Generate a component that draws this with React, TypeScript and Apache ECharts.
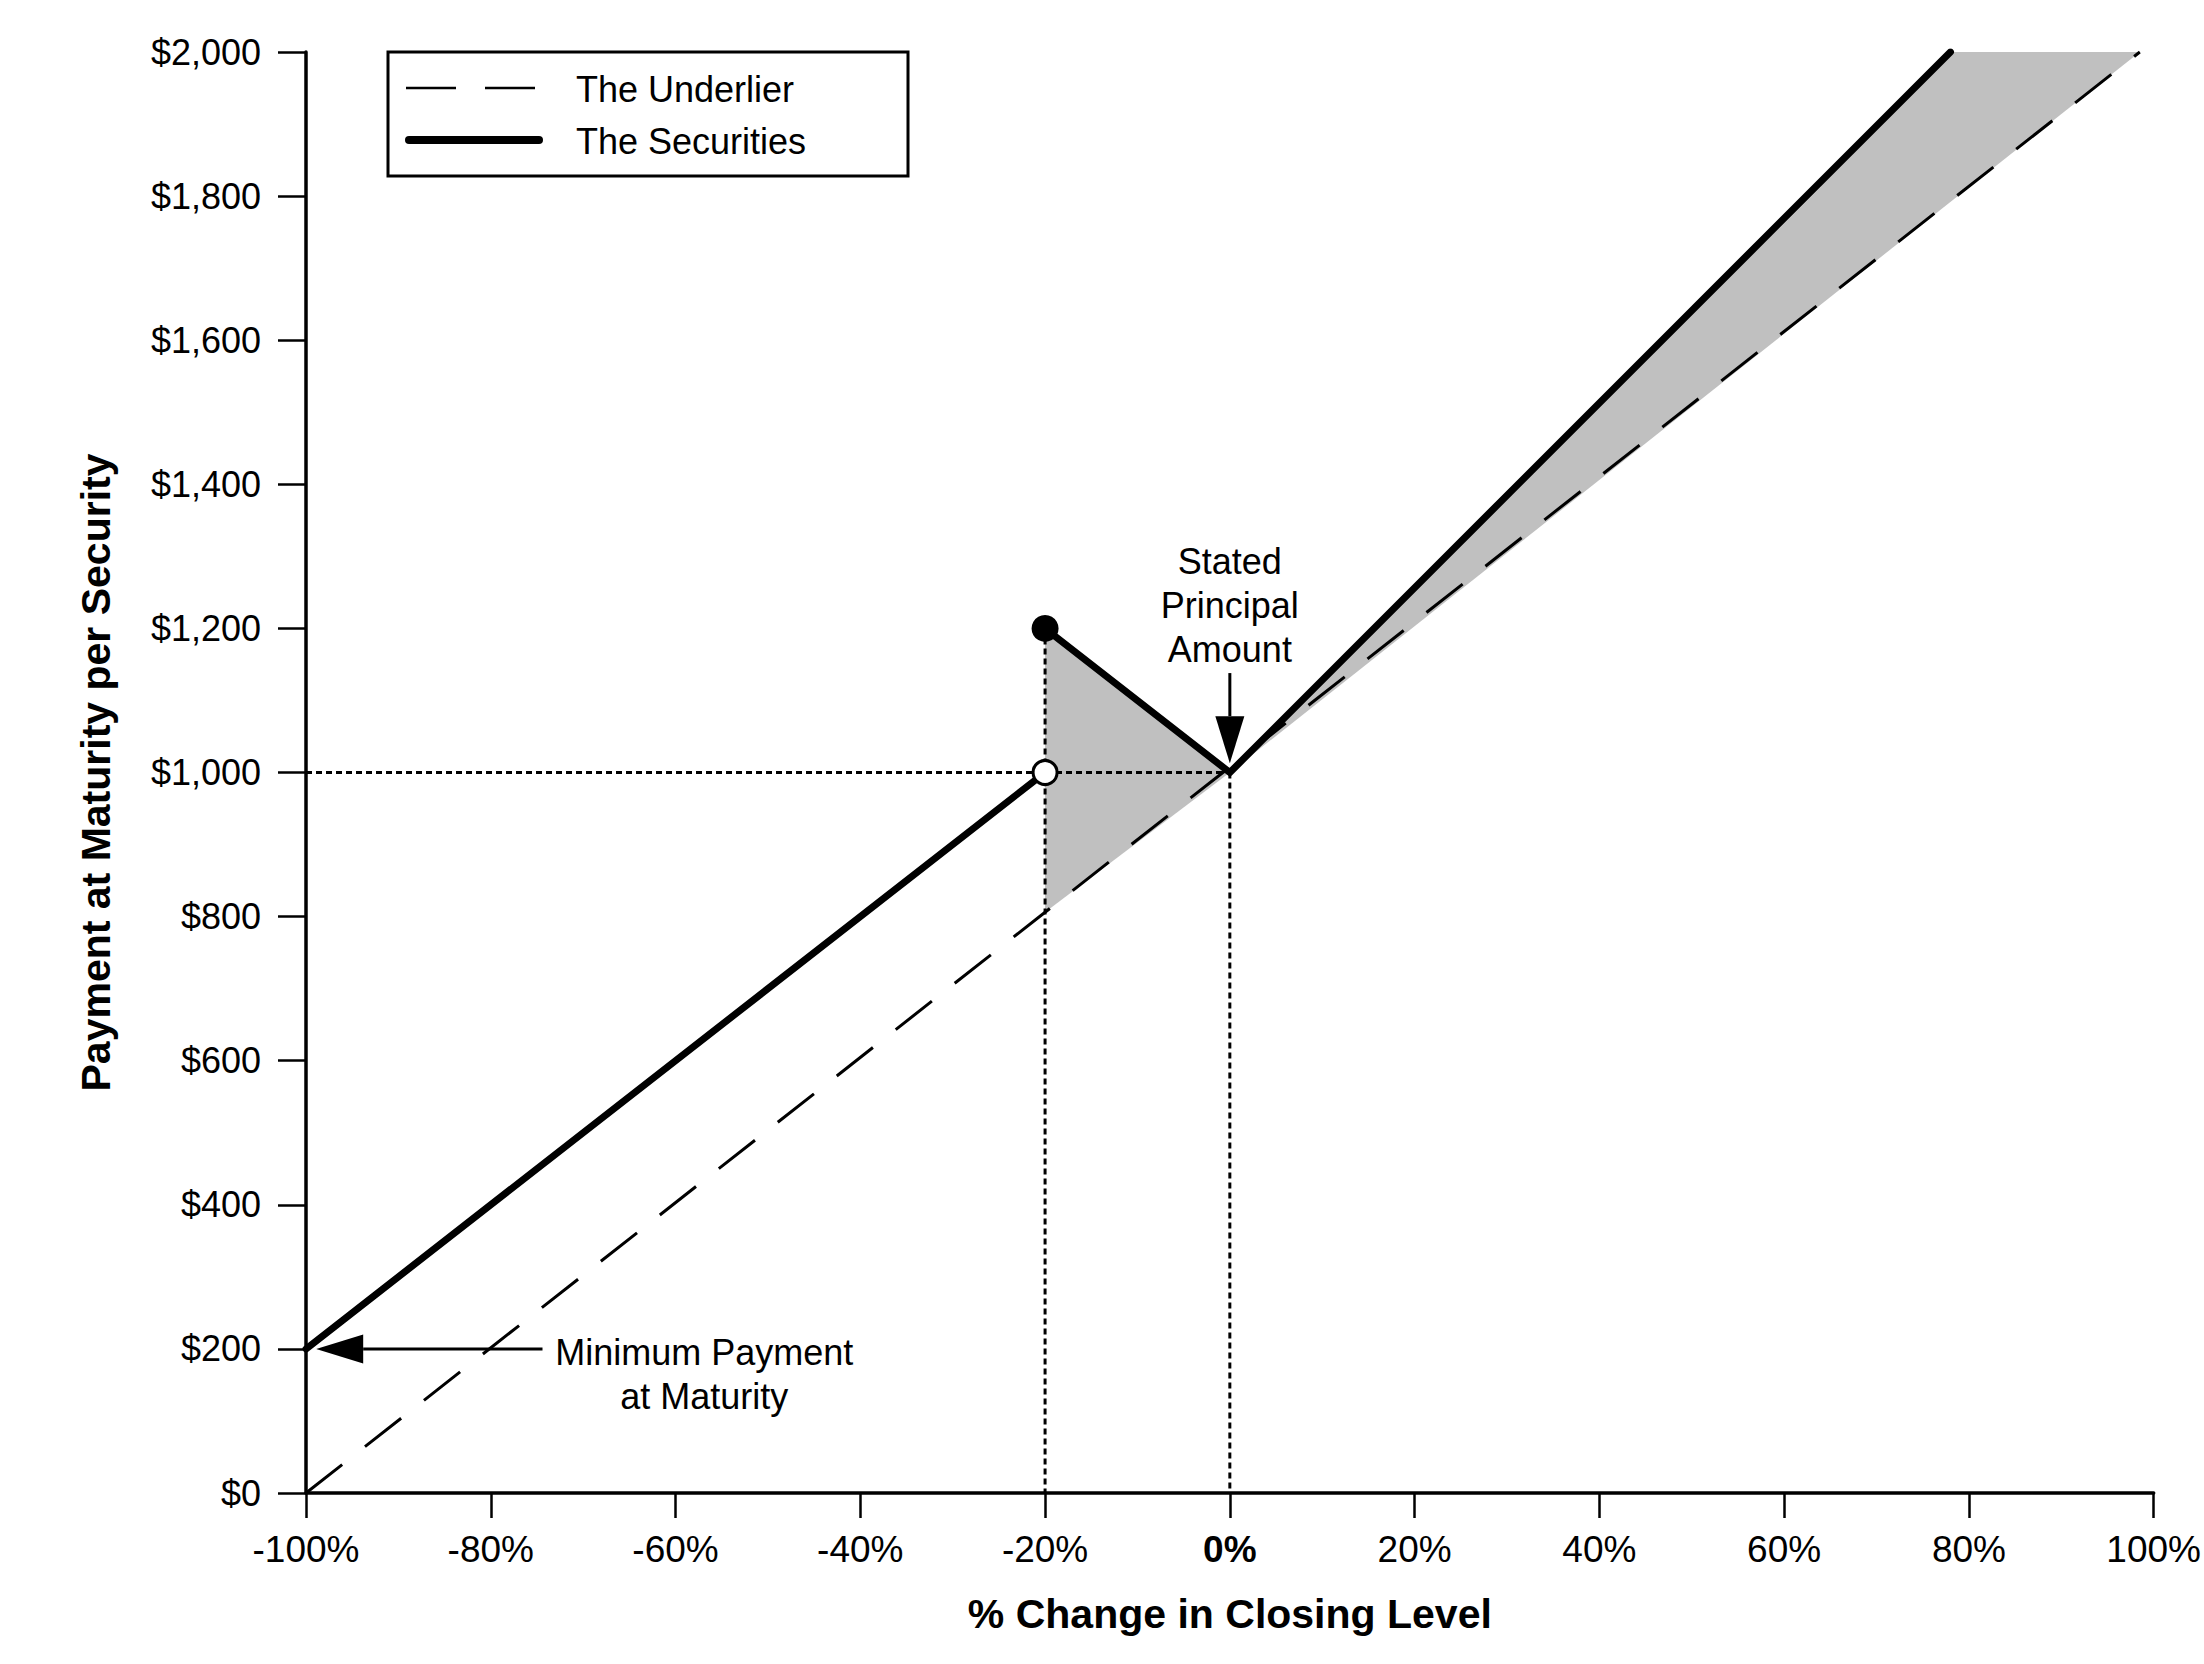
import React, { useEffect, useRef } from 'react';
import * as echarts from 'echarts';

// ---- data ----
const underlier = [[-100, 0], [98.5, 2000]];
const securitiesLow = [[-100, 200], [-20, 1000]];
const securitiesHigh = [[-20, 1200], [0, 1000], [78, 2000]];
const filledDot = [[-20, 1200]];
const openDot = [[-20, 1000]];
const dottedH = [[-100, 1000], [0, 1000]];
const dottedV1 = [[-20, 1200], [-20, 0]];
const dottedV2 = [[0, 1000], [0, 0]];
const shadeLeft = [[-20, 1200], [0, 1000], [-20, 806]];
const shadeRight = [[0, 1000], [78, 2000], [98.5, 2000]];
const principalArrow = [[0, 1138], [0, 1013]];
const minPaymentArrow = [[-74.4, 200], [-98.9, 200]];
const principalLabel = { at: [0, 1232], text: 'Stated\nPrincipal\nAmount' };
const minPaymentLabel = { at: [-56.9, 164], text: 'Minimum Payment\nat Maturity' };
const legendNames = ['The Underlier', 'The Securities'];
const xAxisTitle = '% Change in Closing Level';
const yAxisTitle = 'Payment at Maturity per Security';

const FONT = '"Liberation Sans", Arial, Helvetica, sans-serif';

export default function App() {
  const ref = useRef<HTMLDivElement>(null);
  useEffect(() => {
    if (!ref.current) return;
    const chart = echarts.init(ref.current, undefined, { renderer: 'svg' });
    const shades = [shadeLeft, shadeRight];
    const arrows = [principalArrow, minPaymentArrow];
    const labels = [principalLabel, minPaymentLabel];

    const option: any = {
      animation: false,
      backgroundColor: '#ffffff',
      grid: { left: 306, right: 39, top: 52, bottom: 171, containLabel: false },
      xAxis: {
        type: 'value',
        min: -100,
        max: 100,
        interval: 20,
        name: xAxisTitle,
        nameLocation: 'middle',
        nameGap: 100,
        nameTextStyle: { fontSize: 41, fontWeight: 'bold', color: '#000', fontFamily: FONT },
        axisLine: { show: true, onZero: false, lineStyle: { color: '#000', width: 3.5 } },
        axisTick: { show: true, length: 25, lineStyle: { color: '#000', width: 2.5 } },
        axisLabel: {
          margin: 38,
          fontSize: 37,
          color: '#000',
          fontFamily: FONT,
          formatter: (v: number) => (v === 0 ? '{b|0%}' : v + '%'),
          rich: { b: { fontSize: 37, fontWeight: 'bold', color: '#000', fontFamily: FONT } },
        },
        splitLine: { show: false },
      },
      yAxis: {
        type: 'value',
        min: 0,
        max: 2000,
        interval: 200,
        name: yAxisTitle,
        nameLocation: 'middle',
        nameRotate: 90,
        nameGap: 190,
        nameTextStyle: { fontSize: 41, fontWeight: 'bold', color: '#000', fontFamily: FONT },
        axisLine: { show: true, onZero: false, lineStyle: { color: '#000', width: 3.5 } },
        axisTick: { show: true, length: 28, lineStyle: { color: '#000', width: 2.5 } },
        axisLabel: {
          margin: 45,
          fontSize: 36,
          color: '#000',
          fontFamily: FONT,
          formatter: (v: number) => '$' + v.toLocaleString('en-US'),
        },
        splitLine: { show: false },
      },
      graphic: [
        {
          type: 'group',
          z: 100,
          children: [
            { type: 'rect', shape: { x: 388, y: 52, width: 520, height: 124 }, style: { fill: '#fff', stroke: '#000', lineWidth: 3 } },
            { type: 'line', shape: { x1: 406, y1: 88, x2: 536, y2: 88 }, style: { stroke: '#000', lineWidth: 2.5, lineDash: [50, 29] } },
            { type: 'line', shape: { x1: 409, y1: 140, x2: 539, y2: 140 }, style: { stroke: '#000', lineWidth: 8, lineCap: 'round' } },
            { type: 'text', x: 576, y: 89, style: { text: legendNames[0], fill: '#000', fontSize: 36, fontFamily: FONT, verticalAlign: 'middle' } },
            { type: 'text', x: 576, y: 141, style: { text: legendNames[1], fill: '#000', fontSize: 36, fontFamily: FONT, verticalAlign: 'middle' } },
          ],
        },
      ],
      series: [
        {
          type: 'custom',
          z: 1,
          silent: true,
          data: shades.map((s) => s[0]),
          renderItem: (params: any, api: any) => ({
            type: 'polygon',
            shape: { points: shades[params.dataIndex].map((p) => api.coord(p)) },
            style: { fill: '#c0c0c0' },
          }),
        },
        ...[dottedH, dottedV1, dottedV2].map((d) => ({
          type: 'line',
          z: 2,
          silent: true,
          data: d,
          symbol: 'none',
          lineStyle: { color: '#000', width: 3, type: [6, 4] },
        })),
        {
          type: 'line',
          z: 3,
          silent: true,
          data: underlier,
          symbol: 'none',
          lineStyle: { color: '#000', width: 3, type: [46, 29] },
        },
        ...[securitiesLow, securitiesHigh].map((d) => ({
          type: 'line',
          z: 4,
          silent: true,
          data: d,
          symbol: 'none',
          lineStyle: { color: '#000', width: 7, cap: 'round', join: 'round' },
        })),
        {
          type: 'scatter',
          z: 5,
          silent: true,
          data: filledDot,
          symbol: 'circle',
          symbolSize: 27,
          itemStyle: { color: '#000', opacity: 1 },
        },
        {
          type: 'scatter',
          z: 5,
          silent: true,
          data: openDot,
          symbol: 'circle',
          symbolSize: 24,
          itemStyle: { color: '#fff', borderColor: '#000', borderWidth: 3, opacity: 1 },
        },
        {
          type: 'custom',
          z: 6,
          silent: true,
          data: arrows.map((a) => a[1]),
          renderItem: (params: any, api: any) => {
            const a = arrows[params.dataIndex];
            const p0 = api.coord(a[0]);
            const p1 = api.coord(a[1]);
            const dx = p1[0] - p0[0];
            const dy = p1[1] - p0[1];
            const len = Math.sqrt(dx * dx + dy * dy);
            const ux = dx / len;
            const uy = dy / len;
            const L = 47;
            const W = 14.5;
            const bx = p1[0] - ux * L;
            const by = p1[1] - uy * L;
            return {
              type: 'group',
              children: [
                { type: 'line', shape: { x1: p0[0], y1: p0[1], x2: bx, y2: by }, style: { stroke: '#000', lineWidth: 3 } },
                {
                  type: 'polygon',
                  shape: { points: [[p1[0], p1[1]], [bx - uy * W, by + ux * W], [bx + uy * W, by - ux * W]] },
                  style: { fill: '#000' },
                },
              ],
            };
          },
        },
        {
          type: 'custom',
          z: 6,
          silent: true,
          data: labels.map((l) => l.at),
          renderItem: (params: any, api: any) => {
            const l = labels[params.dataIndex];
            const p = api.coord(l.at);
            return {
              type: 'text',
              x: p[0],
              y: p[1],
              style: {
                text: l.text,
                fill: '#000',
                fontSize: 36,
                fontFamily: FONT,
                align: 'center',
                verticalAlign: 'middle',
                lineHeight: 44,
              },
            };
          },
        },
      ],
    };
    chart.setOption(option);
    return () => chart.dispose();
  }, []);
  return (
    <div
      ref={ref}
      style={{ position: 'fixed', left: 0, top: 0, width: 2204, height: 1664, background: '#fff' }}
    />
  );
}
